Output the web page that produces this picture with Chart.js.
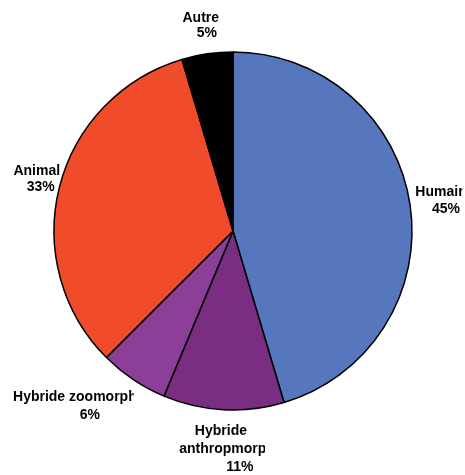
<!DOCTYPE html>
<html>
<head>
<meta charset="utf-8">
<script src="https://cdn.jsdelivr.net/npm/chart.js"></script>
<style>
	html, body { margin: 0; padding: 0; background: #ffffff; }
</style>
</head>
<body>
<canvas id="mycanvas" width="465" height="475"></canvas>
<script>
var categories = ["Humain", "Hybride anthropmorphe", "Hybride zoomorphe", "Animal", "Autre"];
var valeurs = [45.4, 10.9, 6.2, 32.9, 4.6];
var couleurs = ["#5677bd", "#7a2e82", "#8b3f99", "#f04b2b", "#000000"];

// lignes du nom pour chaque étiquette (Excel coupe les mots trop longs)
var lignesNom = [["Humain"], ["Hybride", "anthropmorphe"], ["Hybride zoomorphe"], ["Animal"], ["Autre"]];

// décalage de chaque ligne par rapport au point d'ancrage, et coupure à droite
var placement = [
	[[21, -12], [26, 5]],
	[[-2, 11], [8, 29], [17, 47]],
	[[-49, 9], [-38, 27]],
	[[-13, -13], [-9, 3]],
	[[-5, -26], [1, -11]]
];
var coupure = [42.5, 42, 6, null, null];

var etiquettes = {
	id: 'etiquettes',
	afterDatasetsDraw: function(chart) {
		var ctx = chart.ctx;
		var meta = chart.getDatasetMeta(0);
		var total = valeurs.reduce(function(a, b) { return a + b; }, 0);
		ctx.save();
		ctx.font = "bold 14px 'Liberation Sans', Arial, sans-serif";
		ctx.fillStyle = "#000";
		ctx.textAlign = "center";
		ctx.textBaseline = "middle";
		meta.data.forEach(function(arc, i) {
			var p = arc.getProps(['x', 'y', 'startAngle', 'endAngle', 'outerRadius'], true);
			var mid = (p.startAngle + p.endAngle) / 2;
			var ax = p.x + Math.cos(mid) * (p.outerRadius + 10);
			var ay = p.y + Math.sin(mid) * (p.outerRadius + 10);
			var textes = lignesNom[i].concat([Math.round(valeurs[i] / total * 100) + "%"]);
			ctx.save();
			if (coupure[i] !== null) {
				ctx.beginPath();
				ctx.rect(0, 0, ax + coupure[i], chart.height);
				ctx.clip();
			}
			for (var j = 0; j < textes.length; j++) {
				ctx.fillText(textes[j], ax + placement[i][j][0], ay + placement[i][j][1]);
			}
			ctx.restore();
		});
		ctx.restore();
	}
};

var chartdata = {
	labels: categories,
	datasets: [
		{
			data: valeurs,
			backgroundColor: couleurs,
			borderColor: "#000000",
			borderWidth: 1.5,
			hoverOffset: 0
		}
	]
};

var options = {
	responsive: false,
	animation: false,
	layout: {
		padding: { left: 53.25, right: 52.25, top: 51.25, bottom: 64.25 }
	},
	plugins: {
		legend: { display: false },
		tooltip: { enabled: false }
	}
};

var ctx = document.getElementById("mycanvas");

var pieGraph = new Chart(ctx, {
	type: 'pie',
	data: chartdata,
	options: options,
	plugins: [etiquettes]
});
</script>
</body>
</html>
